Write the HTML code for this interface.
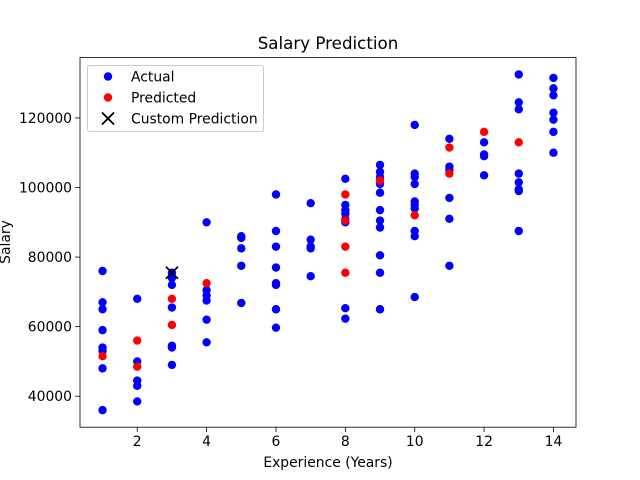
<!DOCTYPE html>
<html><head><meta charset="utf-8"><style>
body{margin:0;background:#fff}
svg{display:block;font-family:"DejaVu Sans","Liberation Sans",sans-serif}
</style></head><body>
<svg id="chart" width="640" height="480" viewBox="0 0 640 480"></svg>
<script>
const actualX = [1,1,1,1,1,1,1,1, 2,2,2,2,2, 3,3,3,3,3,3,3, 4,4,4,4,4,4, 5,5,5,5,5, 6,6,6,6,6,6,6,6, 7,7,7,7,7, 8,8,8,8,8,8,8,8, 9,9,9,9,9,9,9,9,9,9,9, 10,10,10,10,10,10,10,10,10,10, 11,11,11,11,11,11, 12,12,12,12, 13,13,13,13,13,13,13,13, 14,14,14,14,14,14,14];
const actualY = [76000,67000,65000,59000,54000,53000,48000,36000, 68000,50000,44500,43000,38500, 75500,74000,72000,65500,54500,54000,49000, 90000,70500,69000,67500,62000,55500, 86000,85500,82500,77500,66800, 98000,87500,83000,77000,72500,72000,65000,59700, 95500,85000,83000,82500,74500, 102500,95000,93500,92500,91000,90000,65300,62300, 106500,104500,103000,101000,98500,93500,90500,88500,80500,75500,65000, 118000,104000,103000,101000,96000,95000,94000,87500,86000,68500, 114000,106000,105000,97000,91000,77500, 113000,109500,109000,103500, 132500,124500,122500,104000,101500,99500,99000,87500, 131500,128500,126500,121500,119500,116000,110000];
const predX = [1,2,2,3,3,4,8,8,8,8,9,10,11,11,12,13];
const predY = [51500,56000,48500,68000,60500,72500,98000,90500,83000,75500,102000,92000,111500,104000,116000,113000];
const customX = [3];
const customY = [75500];
const xTicks = [2,4,6,8,10,12,14];
const yTicks = [40000,60000,80000,100000,120000];

const L=80,R=576,T=57.6,B=427.2;
const xmin=0.35,xmax=14.65,ymin=31090,ymax=137350;
const sx=v=>L+(v-xmin)/(xmax-xmin)*(R-L);
const sy=v=>B-(v-ymin)/(ymax-ymin)*(B-T);
const svg=document.getElementById('chart');
const NS='http://www.w3.org/2000/svg';
function mk(tag,attrs,parent){const e=document.createElementNS(NS,tag);for(const k in attrs)e.setAttribute(k,attrs[k]);(parent||svg).appendChild(e);return e;}

const title=mk('text',{x:328,y:49,'text-anchor':'middle','font-size':'16.7'});title.textContent='Salary Prediction';



xTicks.forEach(t=>{const x=sx(t);
 const l=mk('line',{x1:x,x2:x,y1:B,y2:B+4.9,stroke:'#000','stroke-width':0.8});
 
 
 const tx=mk('text',{x:x,y:B+19,'text-anchor':'middle','font-size':'13.9'});tx.textContent=t;
 
 
});
yTicks.forEach(t=>{const y=sy(t);
 const l=mk('line',{x1:L-4.9,x2:L,y1:y,y2:y,stroke:'#000','stroke-width':0.8});
 
 
 const tx=mk('text',{x:L-8,y:y+5,'text-anchor':'end','font-size':'13.9'});tx.textContent=t;
 
 
});
const xl=mk('text',{x:328,y:467,'text-anchor':'middle','font-size':'13.9'});xl.textContent='Experience (Years)';


const yl=mk('text',{x:0,y:0,'text-anchor':'middle','font-size':'13.9',transform:'translate(10,242) rotate(-90)'});yl.textContent='Salary';



actualX.forEach((v,i)=>{const c=mk('circle',{cx:sx(v),cy:sy(actualY[i]),r:4.2,fill:'#0000ff'});
 
 });
predX.forEach((v,i)=>{const c=mk('circle',{cx:sx(v),cy:sy(predY[i]),r:4.2,fill:'#ff0000'});
 
 });
customX.forEach((v,i)=>{const x=sx(v),y=sy(customY[i]),d=6;
 const g=mk('path',{d:`M${x-d} ${y-d}L${x+d} ${y+d}M${x-d} ${y+d}L${x+d} ${y-d}`,stroke:'#000','stroke-width':1.8});
 
 });

const frame=mk('rect',{x:L,y:T,width:R-L,height:B-T,fill:'none',stroke:'#000','stroke-width':0.8});



const lg=mk('g',{});


mk('rect',{x:87.5,y:65.5,width:176,height:66,rx:2,fill:'#fff','fill-opacity':0.8,stroke:'#ccc','stroke-width':1},lg);
const e1=mk('circle',{cx:108,cy:76.5,r:4.2,fill:'#0000ff'},lg);


const e2=mk('circle',{cx:108,cy:97.5,r:4.2,fill:'#ff0000'},lg);


const e3=mk('path',{d:'M102 112.5L114 124.5M102 124.5L114 112.5',stroke:'#000','stroke-width':1.8},lg);


[['Actual',81.5],['Predicted',102.5],['Custom Prediction',123.5]].forEach(([s,y])=>{
 const t=mk('text',{x:131,y:y,'font-size':'13.9'},lg);t.textContent=s;
 
 });
</script>
</body></html>
